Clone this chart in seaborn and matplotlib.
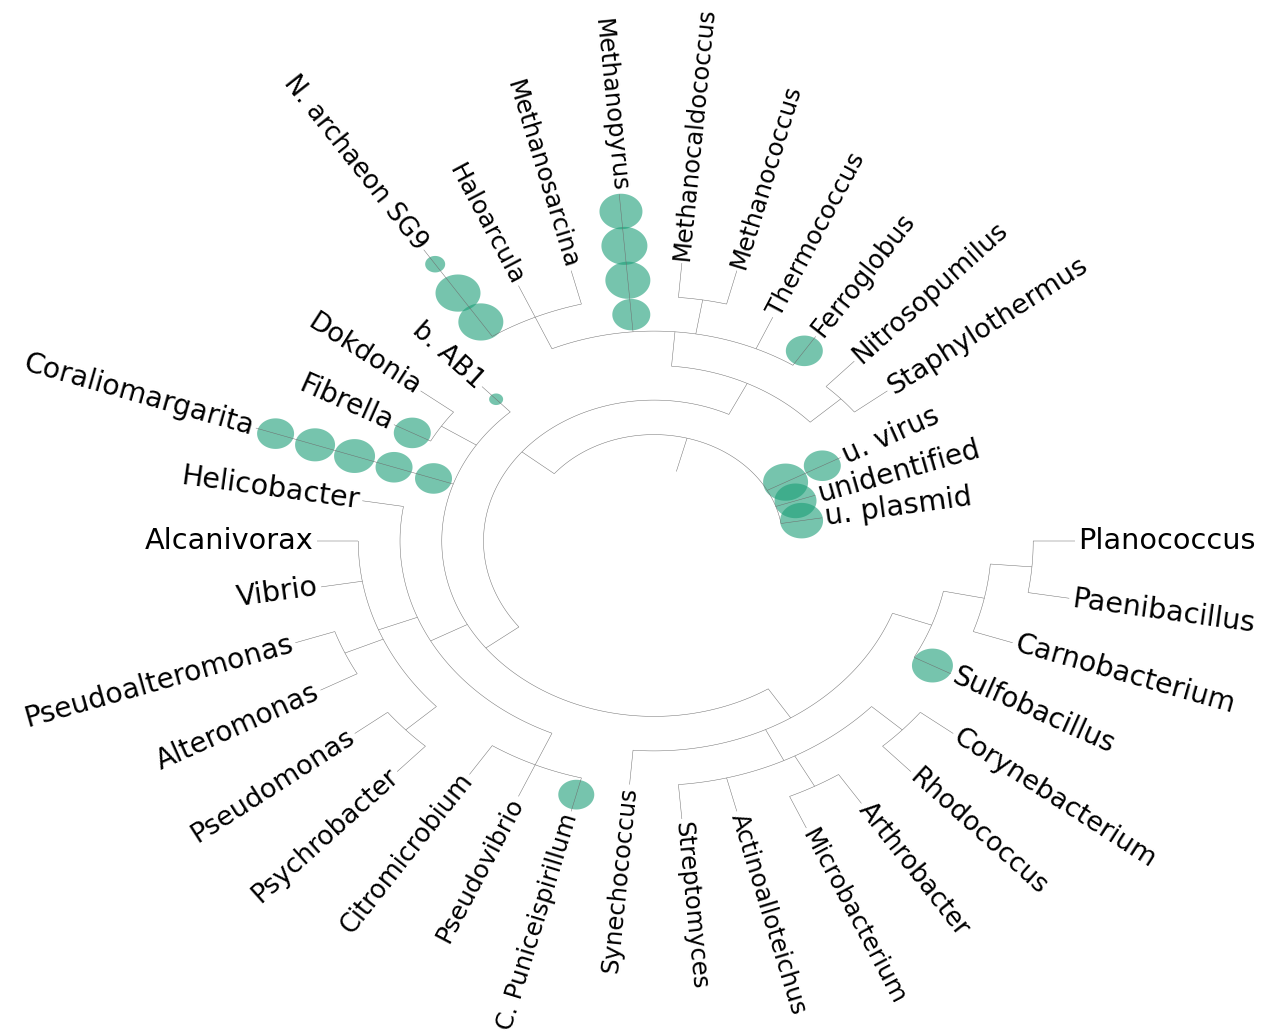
import numpy as np
import matplotlib
matplotlib.use("Agg")
import matplotlib.pyplot as plt
from matplotlib.path import Path
import seaborn as sns

# ---------------------------------------------------------------- data
# Leaves in counter-clockwise order, starting just above 3 o'clock
leaf_names = [
    "u. plasmid", "unidentified", "u. virus", "Staphylothermus", "Nitrosopumilus",
    "Ferroglobus", "Thermococcus", "Methanococcus", "Methanocaldococcus", "Methanopyrus",
    "Methanosarcina", "Haloarcula", "N. archaeon SG9", "b. AB1", "Dokdonia", "Fibrella",
    "Coraliomargarita", "Helicobacter", "Alcanivorax", "Vibrio", "Pseudoalteromonas",
    "Alteromonas", "Pseudomonas", "Psychrobacter", "Citromicrobium", "Pseudovibrio",
    "C. Puniceispirillum", "Synechococcus", "Streptomyces", "Actinoalloteichus",
    "Microbacterium", "Arthrobacter", "Rhodococcus", "Corynebacterium", "Sulfobacillus",
    "Carnobacterium", "Paenibacillus", "Planococcus",
]
# taxonomic depth at which each leaf ends
leaf_depth = [1, 1, 2, 4, 4, 4, 4, 5, 5, 7, 5, 5, 7, 3, 4, 4, 7, 4, 5, 5, 6,
              6, 6, 6, 5, 5, 5, 4, 5, 5, 6, 6, 6, 6, 5, 6, 7, 7]

# internal clades: depth and ordered children
clade_names = [
    "root", "cellular organisms", "Archaea", "TACK group", "Euryarchaeota",
    "Methanococcales", "Stenosarchaea", "Bacteria", "Bacteroidetes", "Proteobacteria",
    "Gammaproteobacteria", "Alteromonadales", "Pseudomonadales", "Alphaproteobacteria",
    "Terrabacteria", "Actinobacteria", "Micrococcales", "Corynebacteriales",
    "Firmicutes", "Bacilli", "Bacillales",
]
clade_depth = [0, 1, 2, 3, 3, 4, 4, 2, 3, 3, 4, 5, 5, 4, 3, 4, 5, 5, 4, 5, 6]
clade_children = [
    ["u. plasmid", "unidentified", "u. virus", "cellular organisms"],
    ["Archaea", "Bacteria"],
    ["TACK group", "Euryarchaeota"],
    ["Staphylothermus", "Nitrosopumilus"],
    ["Ferroglobus", "Thermococcus", "Methanococcales", "Methanopyrus", "Stenosarchaea"],
    ["Methanococcus", "Methanocaldococcus"],
    ["Methanosarcina", "Haloarcula", "N. archaeon SG9"],
    ["b. AB1", "Bacteroidetes", "Coraliomargarita", "Proteobacteria", "Terrabacteria"],
    ["Dokdonia", "Fibrella"],
    ["Helicobacter", "Gammaproteobacteria", "Alphaproteobacteria"],
    ["Alcanivorax", "Vibrio", "Alteromonadales", "Pseudomonadales"],
    ["Pseudoalteromonas", "Alteromonas"],
    ["Pseudomonas", "Psychrobacter"],
    ["Citromicrobium", "Pseudovibrio", "C. Puniceispirillum"],
    ["Synechococcus", "Actinobacteria", "Firmicutes"],
    ["Streptomyces", "Actinoalloteichus", "Micrococcales", "Corynebacteriales"],
    ["Microbacterium", "Arthrobacter"],
    ["Rhodococcus", "Corynebacterium"],
    ["Sulfobacillus", "Bacilli"],
    ["Carnobacterium", "Bacillales"],
    ["Paenibacillus", "Planococcus"],
]

# events placed on leaf branches: leaf, branch segment (starting depth), size (px)
event_leaf = ["u. virus", "u. virus", "unidentified", "u. plasmid", "Ferroglobus",
              "Methanopyrus", "Methanopyrus", "Methanopyrus", "Methanopyrus",
              "N. archaeon SG9", "N. archaeon SG9", "N. archaeon SG9", "b. AB1", "Fibrella",
              "Coraliomargarita", "Coraliomargarita", "Coraliomargarita",
              "Coraliomargarita", "Coraliomargarita", "C. Puniceispirillum", "Sulfobacillus"]
event_level = [0, 1, 0, 0, 3, 3, 4, 5, 6, 4, 5, 6, 2, 3, 2, 3, 4, 5, 6, 4, 4]
event_size = [45, 37, 42, 43, 37, 38, 45, 46, 43, 45, 45, 20, 14, 37, 37, 37, 41, 40, 37, 36, 41]

# ---------------------------------------------------------------- layout
FIG_W, FIG_H = 1273, 1031
CX, CY = 654, 541          # centre of the tree (px from top-left)
SX = 1.21                  # horizontal stretch of the circular layout
RMAX = 440
R0, STEP = 106.4, 34.5     # radius of the root level and of each further rank
BASE_FS = 17.4


def radius(d):
    return R0 + STEP * d


sns.set_theme(style="white")
plt.rcParams["font.family"] = ["DejaVu Sans"]
event_color = sns.color_palette("Dark2")[0]
line_kw = dict(color="#6e6e6e", lw=0.35, solid_capstyle="butt", zorder=3)

fig = plt.figure(figsize=(FIG_W / 100, FIG_H / 100), dpi=100)
box = [(CX - RMAX * SX) / FIG_W, (FIG_H - CY - RMAX) / FIG_H,
       2 * RMAX * SX / FIG_W, 2 * RMAX / FIG_H]
ax = fig.add_axes(box, projection="polar")
ax.set_aspect("auto")
ax.set_ylim(0, RMAX)
ax.set_axis_off()

# angles: leaves evenly spaced, clades at the middle of their first and last child
n_leaf = len(leaf_names)
angle = {name: (i + 1) * 360.0 / n_leaf for i, name in enumerate(leaf_names)}
depth = dict(zip(leaf_names, leaf_depth))
depth.update(zip(clade_names, clade_depth))
children = dict(zip(clade_names, clade_children))


def place(name):
    if name in children:
        kids = children[name]
        for k in kids:
            place(k)
        angle[name] = 0.5 * (angle[kids[0]] + angle[kids[-1]])


place("root")

# branches
for name, kids in children.items():
    r = radius(depth[name])
    t = np.deg2rad(np.linspace(angle[kids[0]], angle[kids[-1]], 120))
    ax.plot(t, np.full_like(t, r), **line_kw)
    for k in kids:
        tk = np.deg2rad(angle[k])
        ax.plot([tk, tk], [r, radius(depth[k])], **line_kw)
troot = np.deg2rad(angle["root"])
ax.plot([troot, troot], [radius(-1), radius(0)], **line_kw)

# events as ellipses (the layout is stretched horizontally)
tt = np.linspace(0, 2 * np.pi, 80)
ellipse = Path(np.column_stack([SX * np.cos(tt), np.sin(tt)]), closed=True)
ev_theta = [np.deg2rad(angle[n]) for n in event_leaf]
ev_r = [0.5 * (radius(l) + radius(l + 1)) for l in event_level]
ev_s = [(w * 0.72) ** 2 for w in event_size]
sns.scatterplot(x=ev_theta, y=ev_r, s=ev_s, marker=ellipse, color=event_color,
                alpha=0.6, linewidth=0, ax=ax, legend=False, zorder=2)
ax.set_axis_off()

# leaf labels
for name in leaf_names:
    th = np.deg2rad(angle[name])
    phi = np.degrees(np.arctan2(np.sin(th), SX * np.cos(th)))
    stretch = np.hypot(SX * np.cos(th), np.sin(th))
    fs = BASE_FS * stretch ** 0.9
    a = angle[name] % 360
    if 90 < a <= 270:
        rot, ha = phi + 180, "right"
    else:
        rot, ha = phi, "left"
    ax.text(th, radius(depth[name]) + 2.5, name, rotation=rot, rotation_mode="anchor",
            ha=ha, va="center", fontsize=fs, color="black", zorder=4)

fig.savefig("out.png", dpi=100)
